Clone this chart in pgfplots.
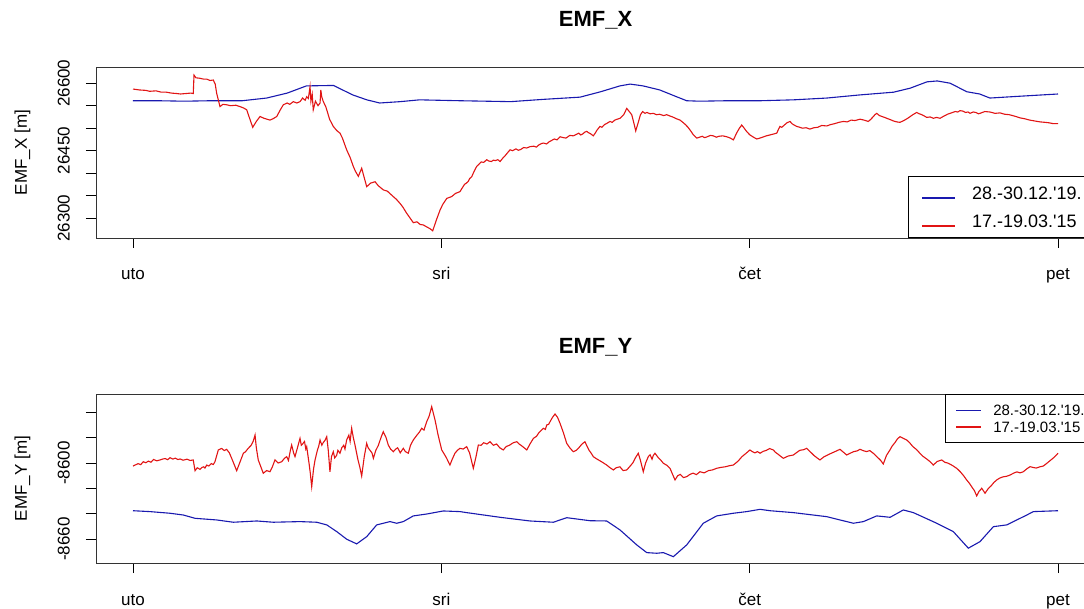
\documentclass[border=0pt]{standalone}
\usepackage{pgfplots}
\pgfplotsset{compat=1.18}
\usepackage{fontspec}
\setmainfont{Liberation Sans}
\definecolor{cblue}{RGB}{25,25,175}
\definecolor{cred}{RGB}{225,20,20}

\pgfplotsset{
 emf/.style={
  scale only axis, width=999pt,
  xmin=-2.88, xmax=74.88,
  xtick={0,24,48,72}, xticklabels={uto,sri,čet,pet},
  tick align=outside, tick pos=left,
  major tick length=10pt,
  scaled y ticks=false,
  every tick/.style={black, line width=0.8pt},
  axis line style={black!80, line width=0.9pt},
  ticklabel style={font=\fontsize{17}{17}\selectfont, inner sep=0pt},
  xticklabel style={anchor=base},
  xticklabel shift=32pt,
  yticklabel style={rotate=90, anchor=south},
  yticklabel shift=16pt,
  title style={font=\bfseries\fontsize{22}{22}\selectfont, at={(axis description cs:0.5,1)}, anchor=base, yshift=34pt},
  ylabel style={font=\fontsize{17}{17}\selectfont, at={(axis description cs:-0.0691,0.5)}, rotate=0, anchor=base},
  legend cell align=left,
 }
}

\begin{document}
\begin{tikzpicture}
\begin{axis}[emf, at={(96pt,370pt)}, anchor=south west, height=171pt,
  ymin=26256, ymax=26636,
  ytick={26300,26350,26400,26450,26500,26550,26600},
  yticklabels={26300,,,26450,,,26600},
  title={EMF\_X}, ylabel={EMF\_X [m]},
  legend style={at={(rel axis cs:1,0)}, anchor=south east, draw=black, line width=0.9pt, fill=white,
    inner xsep=13pt, inner ysep=10pt, row sep=15pt, font=\fontsize{18}{18}\selectfont,
    nodes={inner sep=0pt, text height=13pt, text depth=0pt}},
  legend image code/.code={\draw[#1,line width=1.1pt] (0pt,-5pt) -- (33pt,-5pt); \path[draw=none] (0pt,0pt) -- (50pt,0pt);},
]
\addplot[cblue, line width=1.1pt] table {
0 26561
2 26561
4 26560
6 26561
8.5 26561
10.4 26567
12 26578
13.5 26594
15.6 26595
17.1 26574
18.2 26563
19.2 26556
20.8 26559
22.3 26563
25.5 26561
29.4 26559
31.9 26564
34.8 26569
36.4 26581
37.9 26594
38.7 26598
39.7 26594
41 26585
42.3 26570
43.1 26561
44.1 26560
46.2 26561
48.8 26561
51.4 26563
54 26567
56.6 26574
59.2 26580
60.5 26589
61.8 26603
62.6 26605
63.6 26600
64.9 26581
65.9 26576
66.7 26567
69 26571
72 26576
};
\addlegendentry{28.-30.12.\textquotesingle 19.}
\addplot[cred, line width=1.1pt] table {
0 26587
0.5 26585
1.0 26584
1.3 26582
1.8 26583
2.2 26580
2.6 26580
3.0 26578
3.4 26577
3.7 26576
4.1 26577
4.5 26578
4.69 26577
4.75 26618
4.9 26612
5.2 26611
5.5 26609
5.74 26609
6.0 26606
6.25 26607
6.4 26598
6.51 26578
6.77 26548
7.0 26553
7.29 26552
7.6 26550
8.0 26551
8.33 26548
8.6 26545
8.85 26541
9.1 26520
9.32 26502
9.6 26515
9.89 26526
10.2 26522
10.66 26518
10.9 26521
11.19 26526
11.45 26540
11.7 26552
12.0 26556
12.2 26553
12.48 26559
12.75 26556
13.0 26559
13.2 26567
13.4 26562
13.52 26570
13.65 26566
13.78 26592
13.85 26560
13.95 26575
14.03 26541
14.2 26560
14.4 26550
14.56 26556
14.62 26585
14.69 26570
14.8 26560
15.0 26548
15.08 26541
15.3 26520
15.59 26504
15.85 26495
16.11 26489
16.3 26478
16.63 26452
16.9 26435
17.15 26415
17.3 26405
17.54 26393
17.8 26411
18.0 26390
18.19 26370
18.5 26378
18.84 26381
19.1 26372
19.48 26363
19.8 26360
20.26 26348
20.5 26342
20.78 26333
21.0 26325
21.3 26311
21.5 26303
21.82 26290
22.1 26292
22.35 26286
22.6 26285
22.9 26280
23.1 26277
23.33 26272
23.6 26295
23.9 26318
24.1 26330
24.42 26344
24.8 26348
25.1 26355
25.45 26359
25.6 26366
25.8 26375
25.95 26378
26.1 26382
26.2 26388
26.36 26392
26.55 26404
26.75 26415
26.9 26419
27.1 26425
27.3 26424
27.53 26430
27.7 26427
27.9 26426
28.05 26429
28.2 26428
28.4 26430
28.57 26426
28.8 26434
29.0 26440
29.2 26447
29.35 26452
29.55 26450
29.8 26454
30.0 26451
30.2 26453
30.4 26457
30.65 26456
30.9 26459
31.2 26460
31.4 26458
31.6 26463
31.8 26466
31.94 26467
32.2 26465
32.4 26470
32.6 26473
32.8 26476
33.0 26474
33.24 26481
33.5 26479
33.7 26478
34.0 26484
34.27 26483
34.5 26486
34.7 26489
34.85 26485
35.0 26487
35.15 26491
35.32 26493
35.45 26490
35.6 26488
35.83 26483
36.0 26490
36.1 26495
36.35 26504
36.5 26502
36.7 26508
36.9 26511
37.13 26515
37.3 26513
37.5 26518
37.7 26520
37.91 26522
38.05 26526
38.2 26530
38.3 26536
38.43 26544
38.6 26538
38.82 26530
39.0 26510
39.13 26494
39.35 26515
39.5 26530
39.67 26537
39.85 26533
40.0 26535
40.25 26532
40.5 26533
40.75 26530
41.0 26531
41.3 26528
41.54 26530
41.8 26527
42.0 26525
42.3 26521
42.58 26518
42.8 26513
43.0 26508
43.2 26502
43.36 26496
43.6 26486
43.88 26478
44.1 26480
44.3 26482
44.5 26479
44.7 26481
44.95 26484
45.17 26483
45.4 26480
45.6 26482
45.9 26483
46.21 26481
46.5 26478
46.73 26474
46.9 26484
47.0 26490
47.2 26500
47.38 26507
47.55 26501
47.7 26495
47.85 26490
48.02 26485
48.3 26480
48.55 26476
48.8 26478
49.0 26480
49.3 26483
49.58 26485
49.85 26487
50.11 26489
50.25 26498
50.36 26504
50.5 26502
50.7 26507
50.9 26512
51.14 26515
51.3 26510
51.4 26508
51.66 26504
51.9 26502
52.1 26500
52.4 26501
52.69 26498
53.0 26501
53.3 26502
53.6 26506
54.0 26505
54.3 26508
54.6 26510
54.95 26513
55.29 26515
55.6 26514
55.9 26518
56.2 26517
56.59 26520
56.9 26518
57.23 26515
57.4 26519
57.6 26525
57.75 26530
57.89 26533
58.1 26528
58.3 26526
58.5 26524
58.67 26522
58.95 26519
59.2 26516
59.45 26514
59.7 26513
60.0 26517
60.3 26522
60.7 26530
61.0 26535
61.2 26532
61.4 26530
61.6 26527
61.78 26524
62.05 26525
62.3 26522
62.55 26524
62.82 26522
63.0 26525
63.2 26528
63.4 26531
63.6 26533
63.8 26535
64.0 26537
64.2 26536
64.37 26539
64.6 26538
64.8 26535
65.0 26536
65.15 26533
65.4 26536
65.6 26535
65.8 26532
65.93 26533
66.3 26537
66.7 26536
67.1 26533
67.49 26534
67.85 26531
68.2 26530
68.6 26527
69.04 26523
69.4 26521
69.8 26518
70.2 26516
70.6 26514
71.0 26513
71.3 26512
71.65 26510
72 26510
};
\addlegendentry{17.-19.03.\textquotesingle 15}
\end{axis}

\begin{axis}[emf, at={(96pt,45pt)}, anchor=south west, height=169pt,
  ymin=-8679, ymax=-8545.5,
  ytick={-8660,-8640,-8620,-8600,-8580,-8560},
  yticklabels={-8660,,,-8600,,},
  title={EMF\_Y}, ylabel={EMF\_Y [m]},
  legend style={at={(rel axis cs:1,1)}, anchor=north east, draw=black, line width=0.9pt, fill=white,
    inner xsep=10pt, inner ysep=10.5pt, row sep=5.8pt, font=\fontsize{15}{15}\selectfont,
    nodes={inner sep=0pt, text height=10.8pt, text depth=0pt}},
  legend image code/.code={\draw[#1,line width=1.1pt] (0pt,0pt) -- (25pt,0pt); \path[draw=none] (0pt,0pt) -- (37pt,0pt);},
]
\addplot[cblue, line width=1.1pt] table {
0 -8637.7
1.32 -8638.4
2.88 -8639.7
3.92 -8641.1
4.83 -8643.7
6.52 -8645
7.81 -8646.8
9.63 -8645.8
10.92 -8646.8
13 -8646.3
14.3 -8646.8
15.08 -8648.9
15.86 -8654.2
16.63 -8660.2
17.41 -8663.9
18.19 -8658.2
18.97 -8648.9
20 -8646.3
20.53 -8647.6
21.04 -8646.3
21.82 -8641.8
22.86 -8640.3
24.15 -8637.9
25.45 -8638.4
25.97 -8639.2
28.57 -8642.9
30.9 -8645.8
32.72 -8646.8
33.76 -8643.2
35.57 -8645.6
36.87 -8645.8
37.91 -8652.9
39.21 -8664.7
39.99 -8670.8
40.76 -8671.3
41.28 -8670.8
42.06 -8674
43.1 -8664.7
44.39 -8647.6
45.43 -8641.8
46.73 -8639.7
47.77 -8638.4
48.81 -8636.6
49.58 -8637.7
51.4 -8639.2
54 -8642.4
56.07 -8647.6
56.85 -8646.3
57.89 -8641.8
58.93 -8642.9
59.96 -8637.1
60.74 -8639.2
62.56 -8647.6
63.85 -8654.2
65.02 -8667.3
65.93 -8662.1
66.97 -8650.3
68.01 -8648.9
69.57 -8641.1
70.08 -8638.4
72 -8637.7
};
\addlegendentry{28.-30.12.\textquotesingle 19.}
\addplot[cred, line width=1.1pt] table {
0 -8602.4
0.4 -8600.5
0.6 -8601.3
0.8 -8599
1.0 -8599.8
1.2 -8598.5
1.4 -8599.4
1.6 -8597.2
1.85 -8598.3
2.1 -8597.6
2.3 -8596.9
2.5 -8596.5
2.7 -8597.4
2.88 -8595.8
3.1 -8596.9
3.3 -8596.2
3.5 -8597.3
3.66 -8596.8
3.9 -8597.8
4.2 -8597
4.45 -8598
4.69 -8597.6
4.83 -8606.1
5.0 -8603.8
5.22 -8605
5.35 -8603.6
5.5 -8603
5.6 -8604
5.74 -8601.6
5.9 -8602.4
6.1 -8600.5
6.25 -8601.2
6.38 -8599
6.64 -8589.7
6.9 -8588.5
7.1 -8590.2
7.29 -8589.2
7.5 -8592
7.68 -8596.3
8.07 -8606.1
8.3 -8600
8.59 -8592.3
8.75 -8591.2
8.97 -8588.4
9.2 -8586
9.35 -8583
9.5 -8577.9
9.6 -8588
9.75 -8597.6
10.14 -8608.1
10.4 -8606
10.66 -8606.9
10.85 -8603
11.05 -8597.6
11.3 -8600
11.57 -8599
11.8 -8596.2
11.96 -8595
12.1 -8598
12.25 -8590
12.35 -8585.8
12.5 -8592
12.61 -8595
12.8 -8588
13.0 -8580.5
13.1 -8586
13.2 -8585
13.35 -8583
13.45 -8589
13.52 -8587.1
13.7 -8600
13.8 -8608
13.91 -8618.7
14.05 -8605
14.17 -8597.6
14.35 -8590
14.45 -8587
14.56 -8581.8
14.7 -8586
14.8 -8584
14.95 -8582
15.08 -8579.2
15.2 -8590
15.33 -8606.9
15.45 -8595
15.59 -8591.1
15.7 -8596
15.85 -8594
15.95 -8590
16.11 -8592.3
16.25 -8588
16.4 -8586
16.5 -8589
16.63 -8581.8
16.8 -8578
16.9 -8583
17.02 -8572.6
17.15 -8580
17.28 -8585.8
17.5 -8597
17.65 -8603
17.8 -8610.3
18.0 -8595
18.19 -8584.5
18.3 -8588
18.45 -8590
18.6 -8592
18.71 -8596.3
18.9 -8590
19.1 -8586
19.3 -8580
19.48 -8575.3
19.7 -8580
19.87 -8585.8
20.05 -8589
20.26 -8591.1
20.45 -8589
20.6 -8588
20.8 -8592
21.04 -8588.4
21.2 -8591
21.43 -8592.3
21.6 -8586
21.82 -8581.8
22.1 -8578
22.3 -8575.5
22.47 -8572.6
22.65 -8574
22.86 -8567.4
23.05 -8563
23.25 -8555.5
23.51 -8566
23.75 -8578
24.03 -8589.7
24.2 -8592.5
24.4 -8596
24.67 -8601.6
24.85 -8597
25.06 -8592.3
25.25 -8590
25.45 -8588.4
25.7 -8589
25.97 -8587.1
26.2 -8592
26.49 -8604.2
26.7 -8595
26.88 -8585.8
27.1 -8586
27.3 -8584
27.55 -8585
27.79 -8583.2
28.05 -8586
28.3 -8585
28.55 -8588
28.82 -8589.7
29.05 -8587
29.3 -8586
29.6 -8584
29.87 -8583.2
30.05 -8585
30.2 -8586
30.45 -8588
30.65 -8589.7
30.9 -8585
31.17 -8580.5
31.4 -8579
31.6 -8576
31.8 -8574
31.94 -8572.6
32.1 -8573.5
32.2 -8570
32.35 -8569.5
32.46 -8567.4
32.65 -8564
32.85 -8561.3
33.05 -8564
33.24 -8568.7
33.5 -8576
33.76 -8584.5
34.0 -8588
34.27 -8591.1
34.5 -8590
34.7 -8588
34.95 -8585
35.18 -8583.2
35.35 -8587
35.5 -8590
35.65 -8592
35.83 -8595
36.05 -8596.5
36.3 -8598
36.55 -8599.5
36.87 -8601.6
37.1 -8603.5
37.39 -8605.5
37.6 -8603.8
37.9 -8603
38.15 -8606
38.43 -8605.5
38.65 -8603
38.9 -8600
39.1 -8596
39.33 -8592.3
39.5 -8598
39.72 -8606.9
39.9 -8600
40.11 -8595
40.25 -8593.5
40.4 -8597
40.5 -8594
40.63 -8592.3
40.9 -8596
41.1 -8598
41.28 -8600.2
41.55 -8601.8
41.8 -8604.2
42.0 -8609
42.19 -8613.4
42.4 -8610
42.6 -8609
42.85 -8611.5
43.1 -8610.8
43.35 -8609
43.6 -8608
43.85 -8609.2
44.13 -8606.9
44.45 -8607.8
44.8 -8606
45.1 -8605.5
45.43 -8604.2
45.75 -8603.5
46.1 -8603
46.4 -8602.2
46.73 -8601.6
47.1 -8598.5
47.4 -8595
47.7 -8592.5
48.02 -8589.7
48.2 -8591
48.4 -8592
48.6 -8591
48.81 -8592.3
49.05 -8590.8
49.3 -8590
49.55 -8588.6
49.84 -8589.7
50.0 -8591.5
50.2 -8593
50.4 -8594.6
50.62 -8596.3
51.0 -8594.5
51.4 -8593.7
51.65 -8591.8
51.9 -8590
52.2 -8589.5
52.44 -8588.4
52.7 -8591
53.0 -8594
53.25 -8596
53.47 -8597.6
53.8 -8595
54.2 -8593
54.6 -8591.2
55.03 -8589.2
55.3 -8591.5
55.55 -8593.7
55.8 -8592.4
56.1 -8591
56.35 -8590.5
56.59 -8589.2
56.85 -8590.3
57.1 -8591
57.35 -8590.2
57.62 -8592.3
58.0 -8596
58.2 -8598
58.4 -8600.8
58.65 -8594
58.92 -8589.7
59.1 -8586.5
59.3 -8584
59.5 -8581
59.7 -8579.2
59.95 -8580.5
60.22 -8581.8
60.45 -8584
60.7 -8587
61.0 -8589.5
61.25 -8592.3
61.5 -8594.8
61.8 -8597
62.05 -8599
62.29 -8601.6
62.6 -8598.8
62.95 -8597.6
63.2 -8599.5
63.4 -8600
63.65 -8601.2
63.85 -8602.4
64.15 -8604.5
64.4 -8607
64.65 -8610
64.89 -8613.4
65.1 -8616
65.3 -8619
65.5 -8622
65.67 -8626
65.85 -8622.5
66.06 -8620
66.2 -8622
66.32 -8623.9
66.55 -8620.5
66.8 -8618
67.0 -8615.5
67.23 -8613.4
67.45 -8612
67.7 -8611
68.0 -8610.5
68.27 -8609.5
68.55 -8608
68.8 -8607
69.05 -8607.8
69.3 -8606.9
69.55 -8604.8
69.82 -8602.9
70.05 -8603.5
70.3 -8604
70.6 -8603
70.86 -8602.4
71.1 -8600.5
71.4 -8598
71.7 -8595.5
72 -8592.3
};
\addlegendentry{17.-19.03.\textquotesingle 15}
\end{axis}
\pgfresetboundingbox
\useasboundingbox (0,0) rectangle (1084pt,608pt);
\end{tikzpicture}
\end{document}
